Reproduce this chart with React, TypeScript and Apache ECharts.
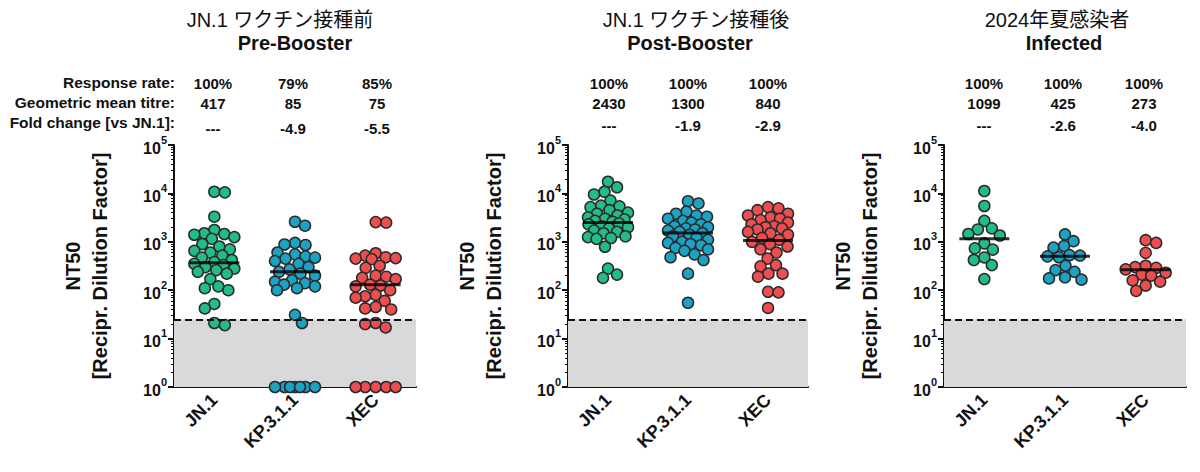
import React, { useEffect, useRef } from "react";
import * as echarts from "echarts";

// ---------- data ----------
const CATEGORIES = ["JN.1", "KP.3.1.1", "XEC"];
const TITLES_JA = ["JN.1 ワクチン接種前", "JN.1 ワクチン接種後", "2024年夏感染者"];
const TITLES_EN = ["Pre-Booster", "Post-Booster", "Infected"];
const ROW_LABELS = ["Response rate:", "Geometric mean titre:", "Fold change [vs JN.1]:"];
const RESPONSE_RATE = [
  ["100%", "79%", "85%"],
  ["100%", "100%", "100%"],
  ["100%", "100%", "100%"],
];
const GMT = [
  ["417", "85", "75"],
  ["2430", "1300", "840"],
  ["1099", "425", "273"],
];
const FOLD = [
  ["---", "-4.9", "-5.5"],
  ["---", "-1.9", "-2.9"],
  ["---", "-2.6", "-4.0"],
];
const LOD = 25;

const preJN1 = [10800, 10500, 3300, 1750, 1500, 1450, 1400, 1250, 1150, 900, 800, 700, 650, 600, 520, 470, 420, 380, 350, 330, 300, 280, 260, 240, 220, 170, 120, 110, 100, 52, 42, 21, 19];
const preKP = [2600, 2150, 950, 880, 860, 600, 550, 500, 470, 450, 400, 350, 300, 270, 240, 220, 200, 160, 150, 140, 130, 120, 110, 100, 31, 21, 1, 1, 1, 1, 1, 1, 1];
const preXEC = [2500, 2550, 580, 520, 480, 460, 450, 440, 320, 290, 200, 190, 180, 170, 130, 125, 120, 100, 80, 75, 70, 60, 45, 42, 40, 21, 20, 17, 1, 1, 1, 1, 1];
const postJN1 = [17400, 13400, 10800, 9500, 7100, 5600, 5400, 5200, 4500, 4000, 3800, 3500, 3200, 3000, 2900, 2700, 2600, 2400, 2300, 2100, 2000, 1900, 1700, 1600, 1500, 1300, 1250, 1200, 1150, 790, 280, 210, 180];
const postKP = [6900, 6200, 4200, 3800, 3500, 3300, 3000, 2700, 2500, 2300, 2100, 2000, 1900, 1800, 1700, 1600, 1500, 1400, 1300, 1200, 1100, 1000, 950, 900, 850, 750, 700, 650, 550, 480, 420, 220, 55];
const postXEC = [5200, 4900, 4500, 3800, 3500, 3200, 3000, 2800, 2500, 2300, 2100, 2000, 1900, 1800, 1600, 1500, 1400, 1200, 1100, 1000, 900, 800, 700, 600, 450, 330, 310, 220, 220, 190, 93, 90, 43];
const infJN1 = [11200, 5500, 2700, 1900, 1800, 1450, 1350, 930, 730, 690, 475, 420, 330, 170];
const infKP = [1420, 1030, 820, 760, 530, 500, 480, 520, 320, 260, 240, 185, 175, 165];
const infXEC = [1080, 950, 590, 320, 300, 290, 270, 230, 210, 200, 160, 150, 125, 97];

const preLines = [370, 240, 130];
const postLines = [2500, 1520, 1070];
const infLines = [1160, 500, 265];

const PANEL_DATA = [
  [preJN1, preKP, preXEC],
  [postJN1, postKP, postXEC],
  [infJN1, infKP, infXEC],
];
const PANEL_LINES = [preLines, postLines, infLines];

// ---------- layout / style ----------
const COLORS = ["#22bd86", "#1ca2c3", "#ef4e50"];
const FONT = "'Liberation Sans', Arial, 'Noto Sans CJK JP', sans-serif";
const GRID_TOP = 145;
const GRID_H = 242;
const GRIDS = [
  { left: 174, width: 242 },
  { left: 568, width: 240 },
  { left: 944, width: 242 },
];
const TITLE_POS = [
  { x1: 280, x2: 295 },
  { x1: 696, x2: 690 },
  { x1: 1057, x2: 1064 },
];
const STAT_COLS = [
  [213, 293, 377],
  [609, 688, 768],
  [984, 1063, 1144],
];
const STAT_ROWS_Y = [83, 103, 125];

function swarmOffsets(values: number[], yPx: number, d: number, maxHalf: number): number[] {
  const order = values.map((_, i) => i).sort((a, b) => values[b] - values[a]);
  const placed: { x: number; y: number }[] = [];
  const offs = new Array(values.length).fill(0);
  const cands: number[] = [0];
  for (let s = 0.5; s <= maxHalf + 1e-9; s += 0.5) cands.push(s, -s);
  let flip = 1;
  for (const i of order) {
    const y = Math.log10(values[i]) * yPx;
    let chosen = NaN;
    let bestX = 0;
    let bestD = -1;
    for (const c0 of cands) {
      const c = c0 * flip;
      let md = Infinity;
      for (const p of placed) {
        const dd = Math.hypot(c - p.x, y - p.y);
        if (dd < md) md = dd;
      }
      if (md >= d) {
        chosen = c;
        break;
      }
      if (md > bestD + 1e-6) {
        bestD = md;
        bestX = c;
      }
    }
    const x = isNaN(chosen) ? bestX : chosen;
    if (x > 0) flip = -1;
    else if (x < 0) flip = 1;
    placed.push({ x, y });
    offs[i] = x;
  }
  return offs;
}

function buildOption() {
  const xAxis: any[] = [];
  const yAxis: any[] = [];
  const series: any[] = [];
  const graphic: any[] = [];

  GRIDS.forEach((g, p) => {
    xAxis.push({
      type: "category",
      gridIndex: p,
      data: CATEGORIES,
      axisLine: { onZero: false, lineStyle: { color: "#111", width: 2 } },
      axisTick: { alignWithLabel: true, length: 6, lineStyle: { color: "#111", width: 2 } },
      axisLabel: { rotate: 45, fontSize: 18, fontWeight: "bold", color: "#111", margin: 10, fontFamily: FONT },
      splitLine: { show: false },
    });
    xAxis.push({ type: "value", gridIndex: p, min: -0.5, max: 2.5, show: false });
    yAxis.push({
      type: "log",
      logBase: 10,
      gridIndex: p,
      min: 1,
      max: 100000,
      position: "left",
      axisLine: { show: true, onZero: false, lineStyle: { color: "#111", width: 2 } },
      axisTick: { show: true, length: 6, lineStyle: { color: "#111", width: 2 } },
      minorTick: { show: true, splitNumber: 9, length: 3, lineStyle: { color: "#111", width: 1 } },
      splitLine: { show: false },
      axisLabel: {
        margin: 7,
        formatter: (v: number) => `{b|10}{s|${Math.round(Math.log10(v))}}`,
        rich: {
          b: { fontSize: 16, fontWeight: "bold", color: "#111", lineHeight: 22, verticalAlign: "bottom", fontFamily: FONT },
          s: { fontSize: 11, fontWeight: "bold", color: "#111", lineHeight: 12, verticalAlign: "top", fontFamily: FONT },
        },
      },
    });

    const xPx = g.width / 3;
    const yPx = GRID_H / 5;

    series.push({
      type: "scatter",
      xAxisIndex: 2 * p + 1,
      yAxisIndex: p,
      data: [],
      z: 1,
      silent: true,
      markArea: {
        silent: true,
        itemStyle: { color: "#d9d9d9" },
        data: [[{ yAxis: 1 }, { yAxis: LOD }]],
      },
      markLine: {
        silent: true,
        symbol: ["none", "none"],
        label: { show: false },
        lineStyle: { color: "#111", type: [7, 4], width: 2 },
        data: [{ yAxis: LOD }],
      },
    });

    PANEL_DATA[p].forEach((vals, c) => {
      const offs = swarmOffsets(vals, yPx, 10.5, 20);
      series.push({
        type: "scatter",
        xAxisIndex: 2 * p + 1,
        yAxisIndex: p,
        z: 3,
        symbol: "circle",
        symbolSize: 11,
        clip: false,
        itemStyle: { color: COLORS[c], borderColor: "#2b2b2b", borderWidth: 1.5, opacity: 1 },
        data: vals.map((v, k) => [c + offs[k] / xPx, v]),
      });
    });

    series.push({
      type: "scatter",
      xAxisIndex: 2 * p + 1,
      yAxisIndex: p,
      z: 5,
      symbol: "rect",
      symbolSize: [50, 3],
      itemStyle: { color: "#000" },
      data: PANEL_LINES[p].map((v, c) => [c, v]),
    });

    // titles
    graphic.push({
      type: "text",
      x: TITLE_POS[p].x1,
      y: 20,
      style: { text: TITLES_JA[p], font: `20px ${FONT}`, fill: "#111", textAlign: "center", textVerticalAlign: "middle" },
    });
    graphic.push({
      type: "text",
      x: TITLE_POS[p].x2,
      y: 43,
      style: { text: TITLES_EN[p], font: `bold 20px ${FONT}`, fill: "#111", textAlign: "center", textVerticalAlign: "middle" },
    });

    // stats
    const rows = [RESPONSE_RATE[p], GMT[p], FOLD[p]];
    rows.forEach((row, r) => {
      row.forEach((txt, c) => {
        const y = r === 2 && p === 0 ? 128 : STAT_ROWS_Y[r];
        graphic.push({
          type: "text",
          x: STAT_COLS[p][c],
          y,
          style: { text: txt, font: `bold 15px ${FONT}`, fill: "#111", textAlign: "center", textVerticalAlign: "middle" },
        });
      });
    });

    // y titles
    graphic.push({
      type: "text",
      x: g.left - 101,
      y: 266,
      rotation: Math.PI / 2,
      style: { text: "NT50", font: `bold 20px ${FONT}`, fill: "#111", textAlign: "center", textVerticalAlign: "middle" },
    });
    graphic.push({
      type: "text",
      x: g.left - 74,
      y: 266,
      rotation: Math.PI / 2,
      style: { text: "[Recipr. Dilution Factor]", font: `bold 20px ${FONT}`, fill: "#111", textAlign: "center", textVerticalAlign: "middle" },
    });
  });

  ROW_LABELS.forEach((t, r) => {
    graphic.push({
      type: "text",
      x: 175,
      y: [82, 102, 122][r],
      style: { text: t, font: `bold 15.5px ${FONT}`, fill: "#111", textAlign: "right", textVerticalAlign: "middle" },
    });
  });

  return {
    animation: false,
    backgroundColor: "#fff",
    grid: GRIDS.map((g) => ({ left: g.left, top: GRID_TOP, width: g.width, height: GRID_H })),
    xAxis,
    yAxis,
    series,
    graphic,
  };
}

export default function App() {
  const ref = useRef<HTMLDivElement>(null);
  useEffect(() => {
    const chart = echarts.init(ref.current!, null, { renderer: "svg" });
    chart.setOption(buildOption() as any);
    return () => chart.dispose();
  }, []);
  return (
    <div
      ref={ref}
      style={{ position: "absolute", left: 0, top: 0, width: 1200, height: 472, background: "#fff" }}
    />
  );
}
